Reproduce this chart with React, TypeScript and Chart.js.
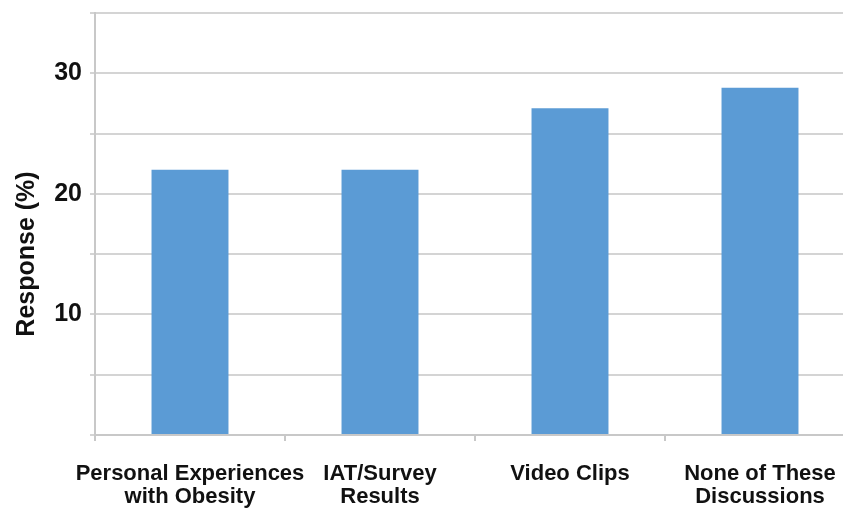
import React, { useEffect, useRef } from 'react';
import { Chart, registerables } from 'chart.js';

Chart.register(...registerables);

const categories: string[][] = [
  ['Personal Experiences', 'with Obesity'],
  ['IAT/Survey', 'Results'],
  ['Video Clips'],
  ['None of These', 'Discussions'],
];
const responseValues: number[] = [22.0, 22.0, 27.1, 28.8];
const yTickLabels: number[] = [10, 20, 30];
const yTitle = 'Response (%)';

const FONT = '"Liberation Sans", Arial, sans-serif';

const yTitlePlugin = {
  id: 'yTitleCustom',
  afterDraw(chart: any) {
    const { ctx, chartArea } = chart;
    ctx.save();
    ctx.translate(27, (chartArea.top + chartArea.bottom) / 2 + 30);
    ctx.rotate(-Math.PI / 2);
    ctx.font = `bold 25px ${FONT}`;
    ctx.fillStyle = '#111';
    ctx.textAlign = 'center';
    ctx.textBaseline = 'middle';
    ctx.fillText(yTitle, 0, 0);
    ctx.restore();
  },
};

export default function App() {
  const ref = useRef<HTMLCanvasElement | null>(null);

  useEffect(() => {
    if (!ref.current) return;
    const chart = new Chart(ref.current, {
      type: 'bar',
      data: {
        labels: categories,
        datasets: [
          {
            data: responseValues,
            backgroundColor: '#5B9BD5',
            borderWidth: 0,
            categoryPercentage: 1,
            barPercentage: 0.405,
          },
        ],
      },
      plugins: [yTitlePlugin],
      options: {
        responsive: false,
        animation: false,
        layout: { padding: { top: 13, right: 5, left: 0, bottom: 0 } },
        plugins: {
          legend: { display: false },
          tooltip: { enabled: false },
          title: { display: false },
        },
        scales: {
          x: {
            offset: true,
            grid: {
              offset: true,
              drawOnChartArea: false,
              drawTicks: true,
              tickLength: 6,
              color: '#c8c8c8',
              lineWidth: 2,
            },
            border: { display: true, color: '#c8c8c8', width: 2 },
            ticks: {
              autoSkip: false,
              maxRotation: 0,
              minRotation: 0,
              padding: 21,
              color: '#111',
              font: { family: FONT, size: 22, weight: 'bold', lineHeight: 1.05 },
            },
            afterFit: (scale: any) => {
              scale.height = 75;
            },
          },
          y: {
            min: 0,
            max: 35,
            ticks: {
              stepSize: 5,
              padding: 8,
              color: '#111',
              font: { family: FONT, size: 25, weight: 'bold' },
              callback: (v: any) => (yTickLabels.includes(Number(v)) ? String(v) : ''),
            },
            grid: {
              color: '#d4d4d4',
              lineWidth: 2,
              drawTicks: true,
              tickLength: 5,
            },
            border: { display: true, color: '#c8c8c8', width: 2 },
            afterFit: (scale: any) => {
              scale.width = 95;
              scale.paddingTop = 0;
              scale.paddingBottom = 0;
            },
          },
        },
      },
    });
    return () => chart.destroy();
  }, []);

  return (
    <div
      style={{
        position: 'fixed',
        left: 0,
        top: 0,
        width: 843,
        height: 510,
        overflow: 'hidden',
        background: '#fff',
      }}
    >
      <canvas ref={ref} width={860} height={510} style={{ width: 860, height: 510, display: 'block' }} />
    </div>
  );
}
